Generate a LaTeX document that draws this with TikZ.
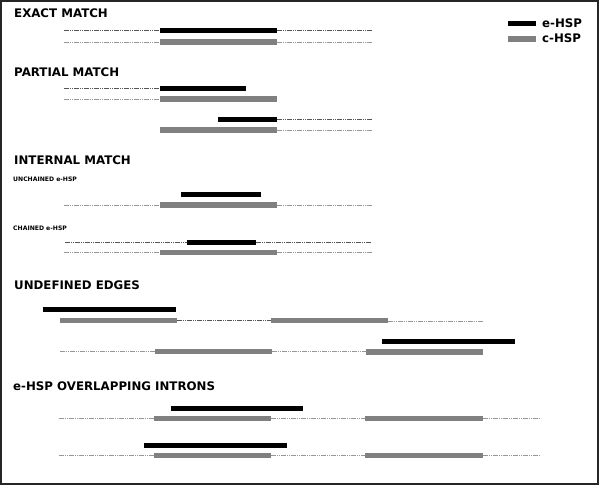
\documentclass[tikz,border=0pt]{standalone}
\usepackage{fontspec}
\setmainfont{DejaVu Sans}
\usepackage{tikz}

\tikzset{
  title/.style={anchor=base west,inner sep=0pt,font=\bfseries\fontsize{11.8}{12}\selectfont},
  subtitle/.style={anchor=base west,inner sep=0pt,font=\bfseries\fontsize{6.1}{7}\selectfont},
  ebar/.style={line width=5pt,black},
  cbar/.style={line width=5.5pt,color={rgb,255:red,128;green,128;blue,128}},
  edash/.style={line width=1pt,color={rgb,255:red,85;green,85;blue,85},dash pattern=on 5pt off 1pt on 1pt off 1pt on 1pt off 1pt},
  cdash/.style={line width=1pt,color={rgb,255:red,150;green,150;blue,150},dash pattern=on 5pt off 1pt on 1pt off 1pt on 1pt off 1pt}
}

\begin{document}
\begin{tikzpicture}
[x=1pt,y=-1pt]
\useasboundingbox (0,0) rectangle (600,485);
\draw[line width=2pt,black!85] (1,1) rectangle (598,483.5);

% legend
\draw[ebar] (508,23) -- (536,23);
\draw[cbar] (508,39) -- (536,39);
\node[title](legE) at (542,27) {e-HSP};
\node[title](legC) at (542,42) {c-HSP};

% exact match
\node[title](exact) at (14,17) {EXACT MATCH};
\draw[edash] (64,30) -- (160,30);
\draw[ebar] (160,30) -- (277,30);
\draw[edash] (277,30) -- (372,30);
\draw[cdash] (64,42) -- (160,42);
\draw[cbar] (160,42) -- (277,42);
\draw[cdash] (277,42) -- (372,42);

% partial match
\node[title](partial) at (14,76) {PARTIAL MATCH};
\draw[edash] (64,88) -- (160,88);
\draw[ebar] (160,88) -- (246,88);
\draw[cdash] (64,99) -- (160,99);
\draw[cbar] (160,99) -- (277,99);

\draw[ebar] (218,119.5) -- (277,119.5);
\draw[edash] (277,119.5) -- (372,119.5);
\draw[cbar] (160,130) -- (277,130);
\draw[cdash] (277,130) -- (372,130);

% internal match
\node[title](internal) at (14,164) {INTERNAL MATCH};
\node[subtitle](unchained) at (13,181) {UNCHAINED e-HSP};
\draw[ebar] (181,194.5) -- (261,194.5);
\draw[cdash] (64,205) -- (160,205);
\draw[cbar] (160,205) -- (277,205);
\draw[cdash] (277,205) -- (372,205);

\node[subtitle](chained) at (13,230) {CHAINED e-HSP};
\draw[edash] (65,242) -- (187,242);
\draw[ebar] (187,242) -- (256,242);
\draw[edash] (256,242) -- (372,242);
\draw[cdash] (64,252.5) -- (160,252.5);
\draw[cbar] (160,252.5) -- (277,252.5);
\draw[cdash] (277,252.5) -- (372,252.5);

% undefined edges
\node[title](undefined) at (14,289) {UNDEFINED EDGES};
\draw[ebar] (43,309.5) -- (176,309.5);
\draw[cbar] (60,320.5) -- (177,320.5);
\draw[edash] (177,320.5) -- (271,320.5);
\draw[cbar] (271,320.5) -- (388,320.5);
\draw[cdash] (388,321.5) -- (483,321.5);

\draw[ebar] (382,341) -- (515,341);
\draw[cdash] (60,351.5) -- (155,351.5);
\draw[cbar] (155,351.5) -- (272,351.5);
\draw[cdash] (272,351.5) -- (366,351.5);
\draw[cbar] (366,352) -- (483,352);

% overlapping introns
\node[title](introns) at (13,390) {e-HSP OVERLAPPING INTRONS};
\draw[ebar] (171,408) -- (303,408);
\draw[cdash] (59,418) -- (154,418);
\draw[cbar] (154,418.5) -- (271,418.5);
\draw[cdash] (271,418) -- (365,418);
\draw[cbar] (365,418.5) -- (483,418.5);
\draw[cdash] (483,418) -- (541,418);

\draw[ebar] (144,445) -- (287,445);
\draw[cdash] (59,455) -- (154,455);
\draw[cbar] (154,455.5) -- (271,455.5);
\draw[cdash] (271,455) -- (365,455);
\draw[cbar] (365,455.5) -- (483,455.5);
\draw[cdash] (483,455) -- (541,455);

\end{tikzpicture}
\end{document}
